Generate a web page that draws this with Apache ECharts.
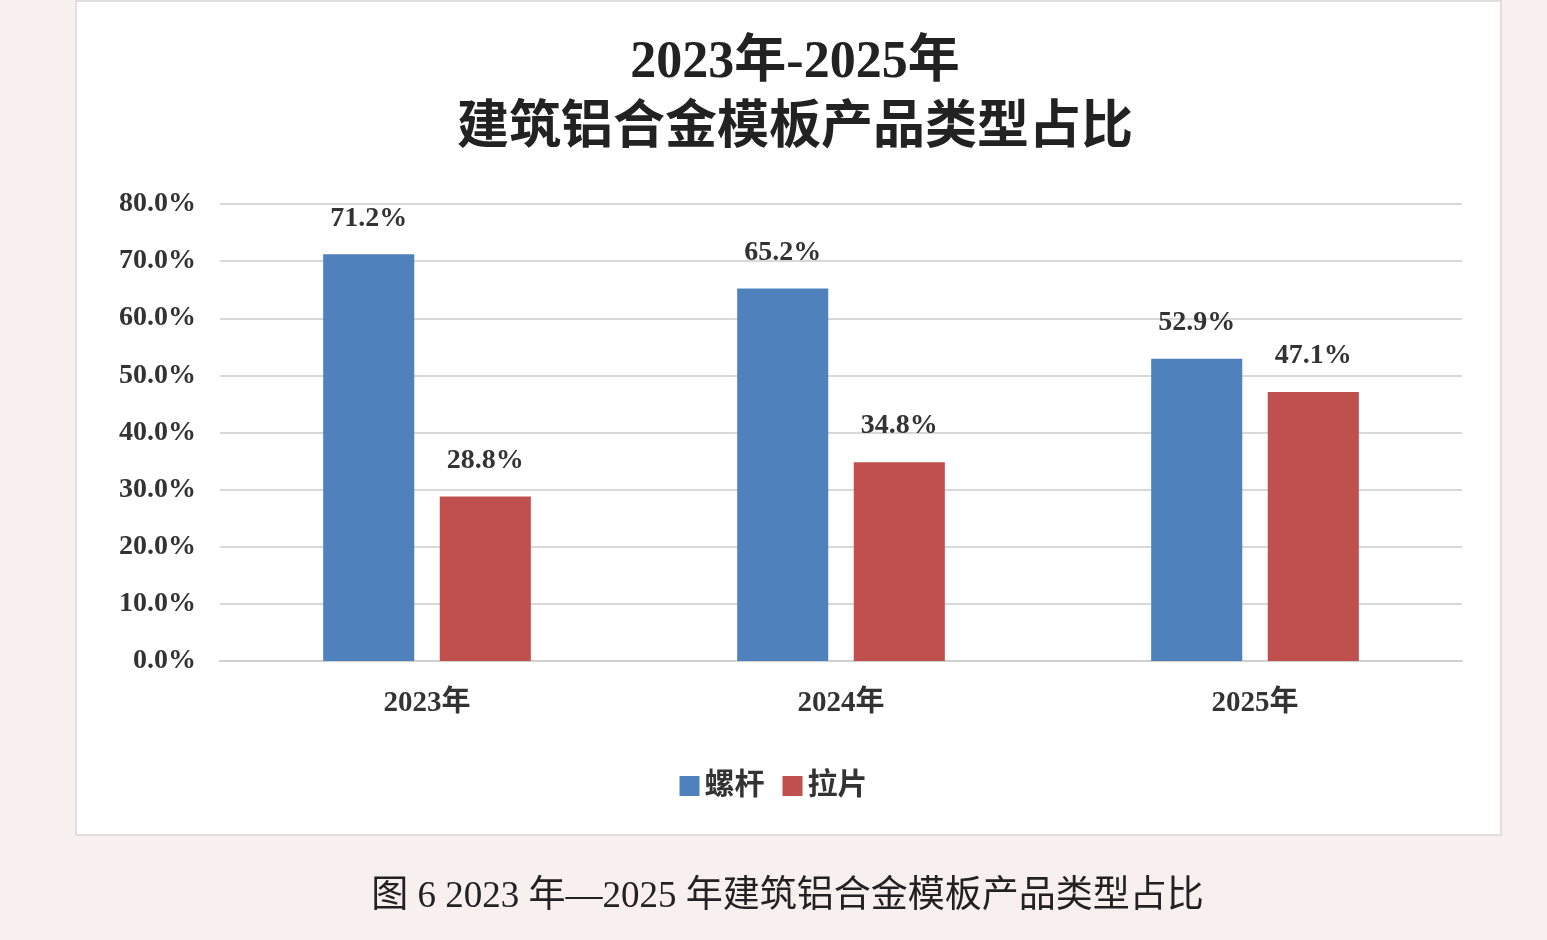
<!DOCTYPE html>
<html><head><meta charset="utf-8">
<script src="https://cdn.jsdelivr.net/npm/echarts@6/dist/echarts.min.js"></script>
<style>
html,body{margin:0;padding:0;background:#f8efef;}
#box{position:absolute;left:75px;top:0;width:1427px;height:836px;background:#fff;border:2px solid #e2dede;box-sizing:border-box;}
#chart{position:absolute;left:0;top:0;width:1547px;height:940px;}
#cap{position:absolute;left:0;width:1575px;top:864px;text-align:center;font:37px "Liberation Serif","Noto Sans CJK SC",serif;color:#222;}
</style></head>
<body>
<div id="box"></div>
<div id="chart"></div>
<div id="cap">图 6 2023 年—2025 年建筑铝合金模板产品类型占比</div>
<script>
// 数据
const categories = ["2023年", "2024年", "2025年"];
const luogan = [71.2, 65.2, 52.9];   // 螺杆
const lapian = [28.8, 34.8, 47.1];   // 拉片
const seriesNames = ["螺杆", "拉片"];

const font = '"Liberation Serif","Noto Sans CJK SC",serif';
const chart = echarts.init(document.getElementById("chart"));
const labelStyle = {
  show: true, position: "top", distance: 22,
  formatter: (p) => p.value.toFixed(1) + "%",
  fontFamily: font, fontWeight: "bold", fontSize: 28, color: "#333"
};
chart.setOption({
  animation: false,
  title: {
    text: "2023年-2025年\n建筑铝合金模板产品类型占比",
    left: 790, textAlign: "center", top: 26,
    textStyle: { fontFamily: font, fontWeight: "bold", fontSize: 52, lineHeight: 66, color: "#222" }
  },
  legend: {
    data: seriesNames, left: "center", top: 766, itemWidth: 20, itemHeight: 20,
    icon: "rect", itemGap: 18,
    textStyle: { fontFamily: font, fontWeight: "bold", fontSize: 30, color: "#333" }
  },
  grid: { left: 220, right: 85, top: 204, bottom: 279 },
  xAxis: {
    type: "category", data: categories,
    axisLine: { lineStyle: { color: "#d0d0d0", width: 2 } },
    axisTick: { show: false },
    axisLabel: { margin: 28, fontFamily: font, fontWeight: "bold", fontSize: 29, color: "#333" }
  },
  yAxis: {
    type: "value", min: 0, max: 80, interval: 10,
    axisLine: { show: false }, axisTick: { show: false },
    splitLine: { lineStyle: { color: "#d8d8d8", width: 2 } },
    axisLabel: { margin: 24, formatter: (v) => v.toFixed(1) + "%", fontFamily: font, fontWeight: "bold", fontSize: 28, color: "#333" }
  },
  series: [
    { name: seriesNames[0], type: "bar", data: luogan, barWidth: "22%", barGap: "28%", itemStyle: { color: "#4f81bd" }, label: labelStyle },
    { name: seriesNames[1], type: "bar", data: lapian, barWidth: "22%", itemStyle: { color: "#c0504d" }, label: labelStyle }
  ]
});
</script>
</body></html>
